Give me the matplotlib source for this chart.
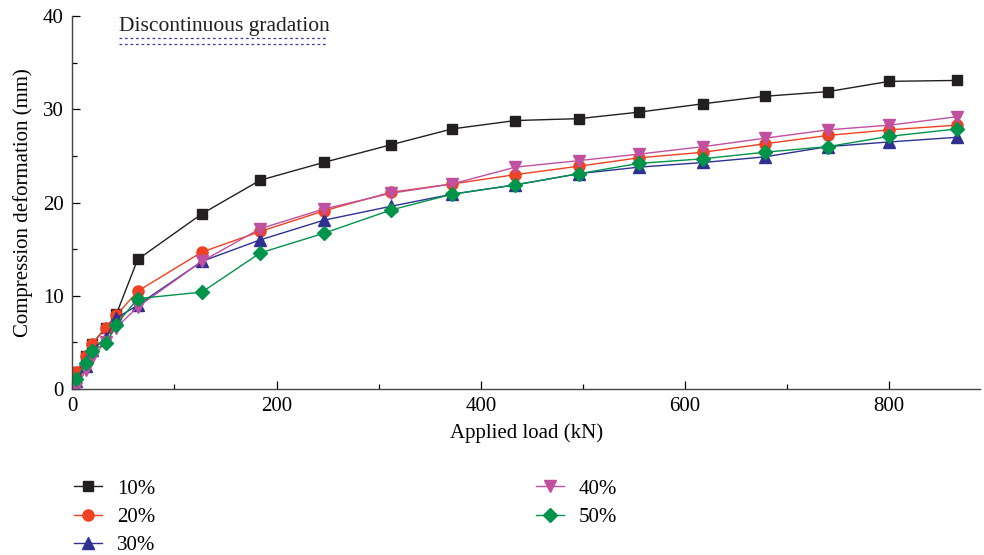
import numpy as np
import matplotlib.pyplot as plt
from matplotlib.ticker import MultipleLocator

plt.rcParams['font.family'] = ['Liberation Serif', 'DejaVu Serif']
plt.rcParams['font.size'] = 15

# applied load steps (kN)
load = [4, 13, 19, 33, 43, 64, 127, 184, 246, 312, 372, 434, 496, 555, 618, 678, 740, 800, 866]

# compression deformation (mm) per content
d10 = [1.8, 3.5, 4.8, 6.6, 8.0, 13.9, 18.8, 22.4, 24.3, 26.2, 27.9, 28.8, 29.0, 29.7, 30.6, 31.4, 31.9, 33.0, 33.1]
d20 = [1.8, 3.5, 4.8, 6.6, 7.9, 10.5, 14.7, 16.9, 19.1, 21.1, 22.0, 23.0, 23.9, 24.8, 25.4, 26.3, 27.2, 27.8, 28.3]
d30 = [0.9, 2.5, 4.2, 5.5, 7.6, 9.0, 13.7, 16.0, 18.1, 19.6, 20.9, 21.9, 23.1, 23.8, 24.3, 24.9, 26.0, 26.5, 27.0]
d40 = [0.1, 2.0, 3.3, 5.1, 6.6, 8.8, 13.7, 17.2, 19.3, 21.0, 22.0, 23.8, 24.5, 25.2, 26.0, 26.9, 27.8, 28.3, 29.2]
d50 = [1.1, 2.8, 4.1, 4.9, 6.9, 9.7, 10.4, 14.6, 16.7, 19.2, 20.9, 21.9, 23.1, 24.2, 24.7, 25.4, 26.0, 27.1, 27.9]

labels = ['10%', '20%', '30%', '40%', '50%']
colors = ['#231f20', '#ef4123', '#2e3192', '#c150a0', '#00944a']
markers = ['s', 'o', '^', 'v', 'D']
sizes = [7.5, 8, 8.5, 9, 7]

fig = plt.figure(figsize=(9.84, 5.55), dpi=100)
ax = fig.add_axes([0.0735, 0.299, 0.9225, 0.672])

for y, lab, c, m, s in zip([d10, d20, d30, d40, d50], labels, colors, markers, sizes):
    ax.plot(load, y, color=c, marker=m, markersize=s, linewidth=1.0, label=lab)

ax.set_xlim(0, 889)
ax.set_ylim(0, 40)
ax.xaxis.set_major_locator(MultipleLocator(200))
ax.xaxis.set_minor_locator(MultipleLocator(100))
ax.yaxis.set_major_locator(MultipleLocator(10))
ax.yaxis.set_minor_locator(MultipleLocator(5))
ax.tick_params(which='major', direction='in', length=6, width=0.9, labelsize=15, pad=6)
ax.tick_params(which='minor', direction='in', length=3.5, width=0.9)
for side in ['top', 'right']:
    ax.spines[side].set_visible(False)
for side in ['left', 'bottom']:
    ax.spines[side].set_linewidth(1.0)
    ax.spines[side].set_color('#444444')

ax.set_xlabel('Applied load (kN)', fontsize=15, labelpad=5)
ax.set_ylabel('Compression deformation (mm)', fontsize=15, labelpad=7)

# group heading with dotted rules underneath
ax.text(0.051, 0.997, 'Discontinuous gradation', transform=ax.transAxes,
        fontsize=15.5, color='#231f20', ha='left', va='top')
ax.plot([0.051, 0.28], [0.942, 0.942], transform=ax.transAxes, color='#3b3bb0',
        linestyle=(0, (2.2, 2.2)), linewidth=0.9)
ax.plot([0.051, 0.28], [0.925, 0.925], transform=ax.transAxes, color='#3b3bb0',
        linestyle=(0, (2.2, 2.2)), linewidth=0.9)

fig.legend(loc='upper left', bbox_to_anchor=(0.067, 0.152), ncol=2,
           frameon=False, fontsize=15, handlelength=1.35, handletextpad=0.72,
           labelspacing=0.42, columnspacing=18.25, borderaxespad=0)

fig.savefig('out.png', dpi=100)
